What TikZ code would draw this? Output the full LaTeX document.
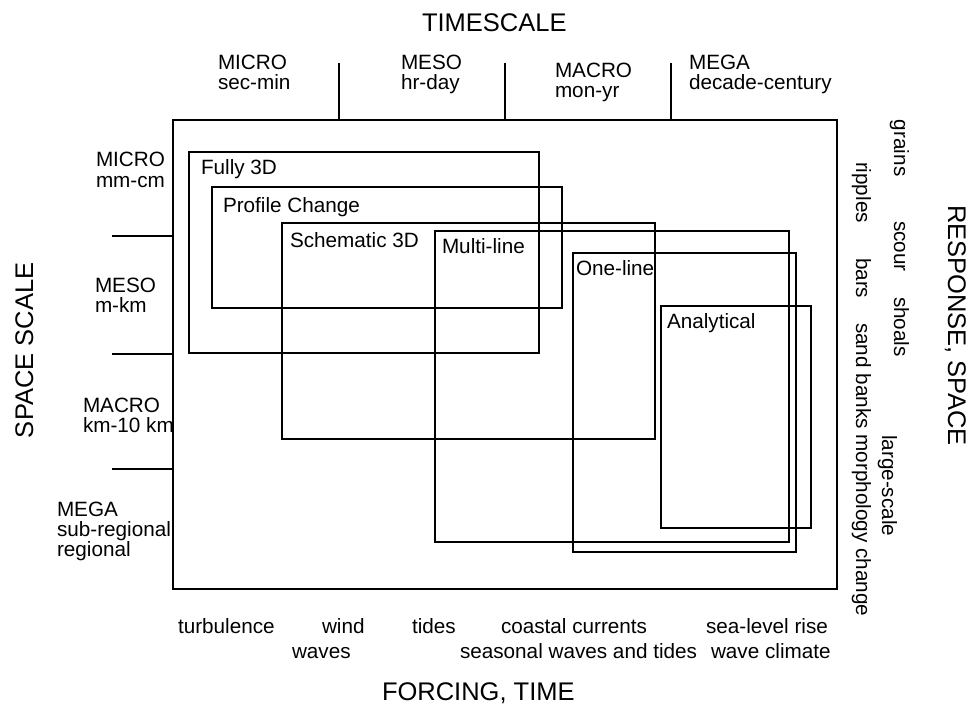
\documentclass[tikz,border=0pt]{standalone}
\usepackage{fontspec}
\setmainfont{Liberation Sans}
\begin{document}
\begin{tikzpicture}[x=1pt,y=-1pt,
  lbl/.style={inner sep=0pt, outer sep=0pt, anchor=base west, font=\fontsize{20.7}{20.5}\selectfont},
  head/.style={inner sep=0pt, outer sep=0pt, anchor=base west, font=\fontsize{25.5}{26}\selectfont},
  box/.style={draw, line width=1.8pt},
  tickline/.style={line width=1.5pt}]
\useasboundingbox (0,0) rectangle (972,706);

% main frame
\draw[box] (173,120) rectangle (837,589);

% top ticks
\draw[tickline] (339,63) -- (339,120);
\draw[tickline] (505,63) -- (505,120);
\draw[tickline] (671,63) -- (671,120);
% left ticks
\draw[tickline] (112,236) -- (173,236);
\draw[tickline] (112,354) -- (173,354);
\draw[tickline] (112,469) -- (173,469);

% model boxes
\draw[box] (189,152) rectangle (539,353);
\draw[box] (212,187) rectangle (562,308);
\draw[box] (282,223) rectangle (655,439);
\draw[box] (435,231) rectangle (789,542);
\draw[box] (573,253) rectangle (796,552);
\draw[box] (661,306) rectangle (811,528);

% model labels
\node[lbl] (fully) at (201,175) {Fully 3D};
\node[lbl] (profile) at (223,212) {Profile Change};
\node[lbl] (schem) at (290,247) {Schematic 3D};
\node[lbl] (multi) at (442,253) {Multi-line};
\node[lbl] (one) at (576,275) {One-line};
\node[lbl] (analyt) at (667,328) {Analytical};

% headings
\node[head] (timescale) at (422,32) {TIMESCALE};
\node[head] (forcing) at (382,700) {FORCING, TIME};
\node[head, rotate=90] (space) at (33,438) {SPACE SCALE};
\node[head, rotate=-90] (response) at (948,205) {RESPONSE, SPACE};

% time scale labels
\node[lbl] (t1a) at (218,70) {MICRO};
\node[lbl] (t1b) at (218,90) {sec-min};
\node[lbl] (t2a) at (401,70) {MESO};
\node[lbl] (t2b) at (401,90) {hr-day};
\node[lbl] (t3a) at (555,78) {MACRO};
\node[lbl] (t3b) at (555,98) {mon-yr};
\node[lbl] (t4a) at (689,70) {MEGA};
\node[lbl] (t4b) at (689,90) {decade-century};

% space scale labels
\node[lbl] (s1a) at (96,167) {MICRO};
\node[lbl] (s1b) at (96,187) {mm-cm};
\node[lbl] (s2a) at (95,292) {MESO};
\node[lbl] (s2b) at (95,312) {m-km};
\node[lbl] (s3a) at (83,412) {MACRO};
\node[lbl] (s3b) at (83,432) {km-10 km};
\node[lbl] (s4a) at (57,516) {MEGA};
\node[lbl] (s4b) at (57,536) {sub-regional};
\node[lbl] (s4c) at (57,556) {regional};

% forcing labels
\node[lbl] (f1) at (178,633) {turbulence};
\node[lbl] (f2) at (322,633) {wind};
\node[lbl] (f3) at (292,658) {waves};
\node[lbl] (f4) at (412,633) {tides};
\node[lbl] (f5) at (501,633) {coastal currents};
\node[lbl] (f6) at (460,658) {seasonal waves and tides};
\node[lbl] (f7) at (706,633) {sea-level rise};
\node[lbl] (f8) at (711,658) {wave climate};

% response labels
\node[lbl, rotate=-90] (r1) at (894,120) {grains};
\node[lbl, rotate=-90] (r2) at (894,221) {scour};
\node[lbl, rotate=-90] (r3) at (894,297) {shoals};
\node[lbl, rotate=-90] (r4) at (856,162) {ripples};
\node[lbl, rotate=-90] (r5) at (856,258) {bars};
\node[lbl, rotate=-90] (r6) at (856,323) {sand banks morphology change};
\node[lbl, rotate=-90] (r7) at (882,435) {large-scale};
\end{tikzpicture}
\end{document}
